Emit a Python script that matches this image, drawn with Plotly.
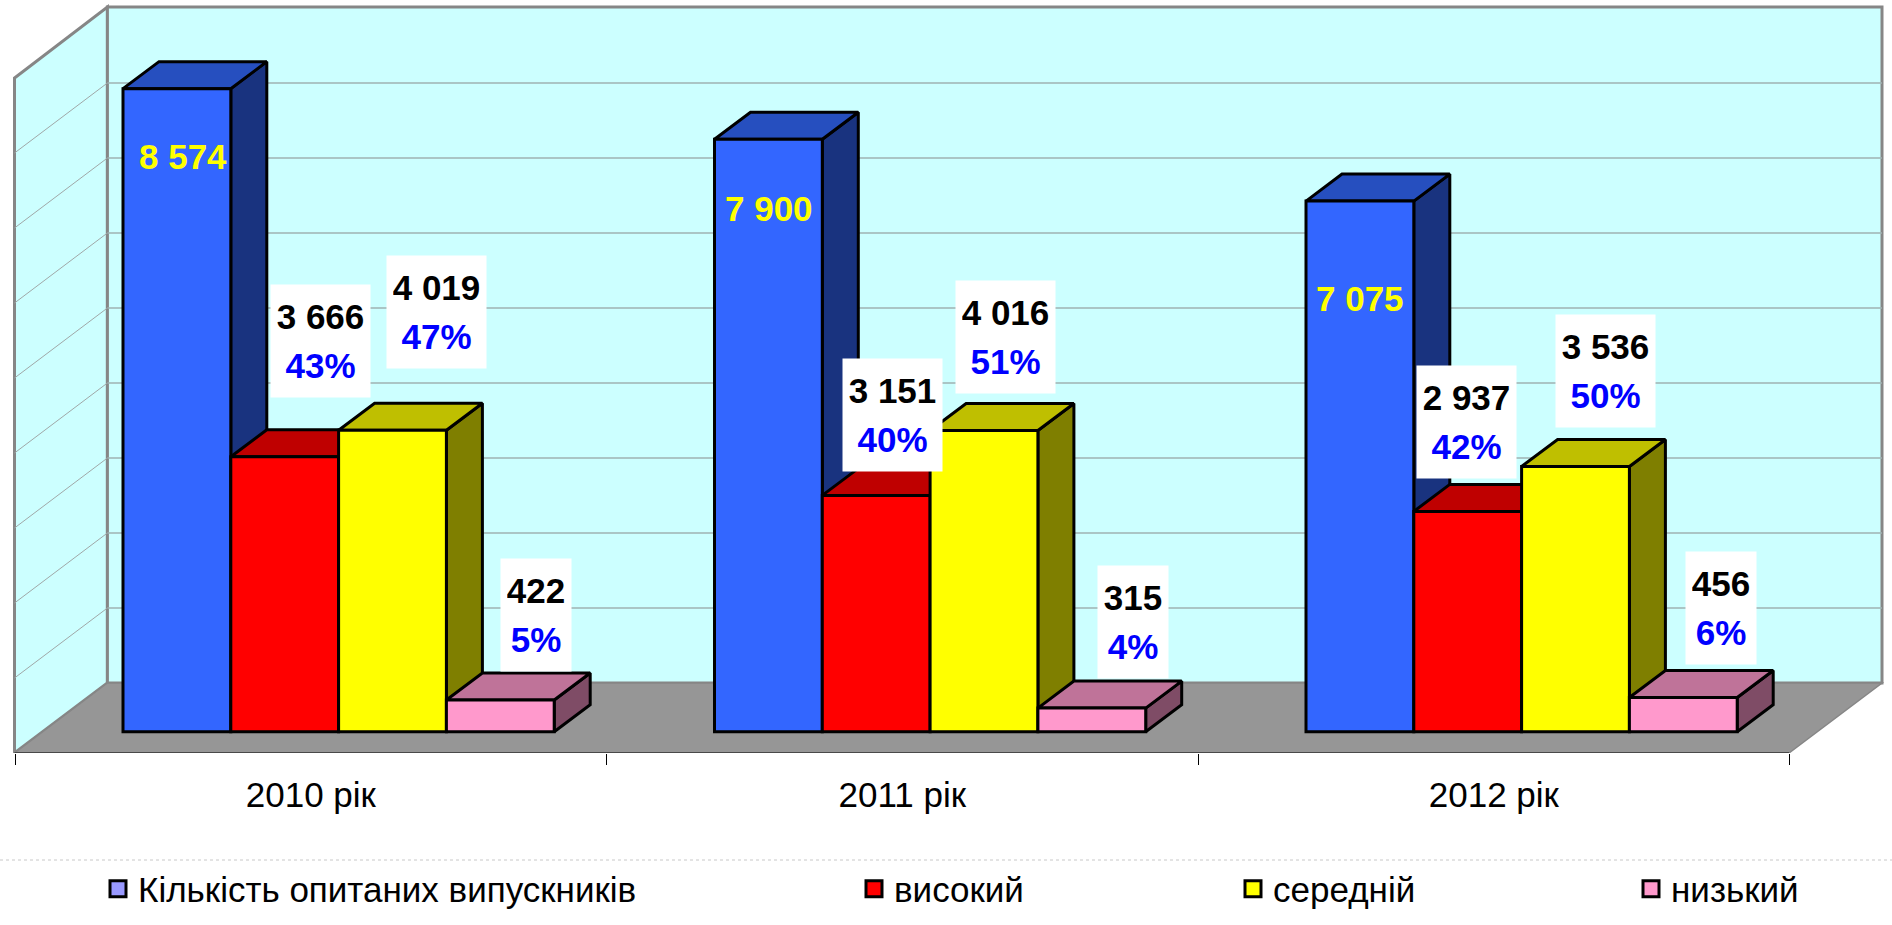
import plotly.graph_objects as go

# ---------- data ----------
categories = ["2010 рік", "2011 рік", "2012 рік"]
surveyed = [8574, 7900, 7075]
high = [3666, 3151, 2937]
medium = [4019, 4016, 3536]
low = [422, 315, 456]
high_pct = [43, 40, 42]
medium_pct = [47, 51, 50]
low_pct = [5, 4, 6]
value_ticks = [1000, 2000, 3000, 4000, 5000, 6000, 7000, 8000, 9000]
series_names = ["Кількість опитаних випускників", "високий", "середній", "низький"]

# ---------- styles / frame geometry (page pixels) ----------
W, H = 1892, 925
PX_PER_VALUE = 0.075
BASE_Y = 731.7          # page y of value 0 on the bars' front
CAT0_X = 310.8          # page x of category 0 centre
CAT_W = 591.5
FL_L, FL_R, FL_Y = 14.5, 1789.0, 753.0
WL_L, WL_R, WL_Y, WL_T = 107.4, 1882.0, 683.0, 7.0
DX, DY = 36.0, 27.0     # bar depth in px
BAR_W = 107.8 / CAT_W
BAR_START = -187.8 / CAT_W
SANS = "Liberation Sans"
FACES = [
    ("#3366FF", "#264FBF", "#19337F"),
    ("#FF0000", "#BF0000", "#7F0000"),
    ("#FFFF00", "#BFBF00", "#7F7F00"),
    ("#FF99CC", "#BF7399", "#7F4C66"),
]
LEGEND_COLORS = ["#9999FF", "#FF0000", "#FFFF00", "#FF99CC"]
LEGEND_X = [98, 854, 1233, 1631]
LEGEND_Y_PX = 889


def xd(px):
    return (px - CAT0_X) / CAT_W


def yd(py):
    return (BASE_Y - py) / PX_PER_VALUE


ddx = DX / CAT_W
ddy = DY / PX_PER_VALUE

fig = go.Figure()

# ---------- walls and floor ----------
shapes = []


def poly(pts, fill, line, lw):
    path = "M " + " L ".join(f"{xd(a)},{yd(b)}" for a, b in pts) + " Z"
    shapes.append(dict(type="path", path=path, xref="x", yref="y", fillcolor=fill,
                       line=dict(color=line, width=lw), layer="below"))


def seg(a, b, color, lw):
    shapes.append(dict(type="line", xref="x", yref="y", x0=xd(a[0]), y0=yd(a[1]),
                       x1=xd(b[0]), y1=yd(b[1]), line=dict(color=color, width=lw), layer="below"))


poly([(FL_L, FL_Y), (WL_L, WL_Y), (WL_L, WL_T), (FL_L, WL_T + 71)], "#CCFFFF", "#868686", 3)
poly([(WL_L, WL_Y), (WL_R, WL_Y), (WL_R, WL_T), (WL_L, WL_T)], "#CCFFFF", "#868686", 3)
poly([(FL_L, FL_Y), (WL_L, WL_Y), (WL_R, WL_Y), (FL_R, FL_Y)], "#969696", "#868686", 1.5)
seg((FL_L, FL_Y), (FL_R, FL_Y), "#333333", 1.5)
for v in value_ticks[:-1]:
    d = v * PX_PER_VALUE
    seg((WL_L, WL_Y - d), (WL_R, WL_Y - d), "#9FB2B2", 1.5)
    seg((FL_L, FL_Y - d), (WL_L, WL_Y - d), "#A0A8A8", 1)

# ---------- bars ----------
all_series = [surveyed, high, medium, low]
for k, vals in enumerate(all_series):
    front, top, side = FACES[k]
    top_x, top_y, side_x, side_y = [], [], [], []
    for i, v in enumerate(vals):
        x0 = i + BAR_START + k * BAR_W
        x1 = x0 + BAR_W
        top_x += [x0, x0 + ddx, x1 + ddx, x1, x0, None]
        top_y += [v, v + ddy, v + ddy, v, v, None]
        side_x += [x1, x1 + ddx, x1 + ddx, x1, x1, None]
        side_y += [0, ddy, v + ddy, v, 0, None]
    for xs, ys, col in ((side_x, side_y, side), (top_x, top_y, top)):
        fig.add_trace(go.Scatter(x=xs, y=ys, mode="lines", fill="toself", fillcolor=col,
                                 line=dict(color="black", width=3), hoverinfo="skip",
                                 showlegend=False, zorder=2 * k))
    fig.add_trace(go.Bar(x=list(range(3)), y=vals, width=BAR_W,
                         offset=BAR_START + k * BAR_W, marker=dict(color=front, line=dict(color="black", width=3)),
                         name=series_names[k], showlegend=False, zorder=2 * k + 1))

# ---------- legends ----------
legends = {}
for k, name in enumerate(series_names):
    key = "legend" if k == 0 else f"legend{k + 1}"
    fig.add_trace(go.Scatter(x=[None], y=[None], mode="markers", name=name, legend=key,
                             marker=dict(symbol="square", size=16, color=LEGEND_COLORS[k],
                                         line=dict(color="black", width=3))))
    legends[key] = dict(x=LEGEND_X[k] / W, y=(FL_Y - LEGEND_Y_PX) / FL_Y, xanchor="left", yanchor="middle",
                        bgcolor="rgba(0,0,0,0)", font=dict(family=SANS, size=35, color="black"),
                        itemwidth=30, traceorder="normal")

# ---------- value labels ----------
annotations = []
fmt = lambda v: f"{v:,}".replace(",", " ")
BLUE_LABEL_PX = [(183, 156), (769, 208), (1360, 298)]
HIGH_LABEL_PX = [(320, 341), (892, 415), (1466, 422)]
MED_LABEL_PX = [(436, 312), (1005, 337), (1605, 371)]
LOW_LABEL_PX = [(536, 615), (1133, 622), (1721, 608)]
for i, (a, b) in enumerate(BLUE_LABEL_PX):
    annotations.append(dict(x=xd(a), y=yd(b), xref="x", yref="y", showarrow=False,
                            text=f"<b>{fmt(surveyed[i])}</b>",
                            font=dict(family=SANS, size=35, color="#FFFF00")))
for vals, pcts, pos in ((high, high_pct, HIGH_LABEL_PX), (medium, medium_pct, MED_LABEL_PX), (low, low_pct, LOW_LABEL_PX)):
    for i, (a, b) in enumerate(pos):
        box_w = 87 if vals is not low else 58
        annotations.append(dict(x=xd(a), y=yd(b), xref="x", yref="y", showarrow=False, align="center",
                                text=f"<span style='font-size:35px'><b>{fmt(vals[i])}</b></span><br>"
                                     f"<span style='font-size:35px;color:#0000FF'><b>{pcts[i]}%</b></span>",
                                bgcolor="white", borderpad=6, width=box_w, height=100,
                                font=dict(family=SANS, size=37, color="black")))

# dotted separator above the legend
shapes.append(dict(type="line", xref="paper", yref="paper", x0=0, x1=1,
                   y0=(FL_Y - 860) / FL_Y, y1=(FL_Y - 860) / FL_Y,
                   line=dict(color="#C8C8C8", width=1, dash="dot")))

fig.update_layout(
    width=W, height=H, autosize=False, paper_bgcolor="white", plot_bgcolor="white",
    margin=dict(l=0, r=0, t=0, b=H - FL_Y, autoexpand=False), barmode="overlay", showlegend=True,
    shapes=shapes, annotations=annotations,
    xaxis=dict(range=[xd(0), xd(W)], tickmode="array", tickvals=[0, 1, 2], ticktext=categories,
               ticks="", showgrid=False, zeroline=False, showline=False, ticklabelstandoff=18,
               tickfont=dict(family=SANS, size=35, color="black"),
               minor=dict(tickmode="array", tickvals=[-0.5, 0.5, 1.5, 2.5], ticks="outside",
                          ticklen=11, tickwidth=1, tickcolor="black", showgrid=False)),
    yaxis=dict(range=[yd(FL_Y), yd(0)], showticklabels=False, ticks="", showgrid=False,
               zeroline=False, showline=False),
    **legends,
)

fig.write_html("out.html", config={"displayModeBar": False},
               post_script="document.body.style.margin='0';document.documentElement.style.overflow='hidden';")
